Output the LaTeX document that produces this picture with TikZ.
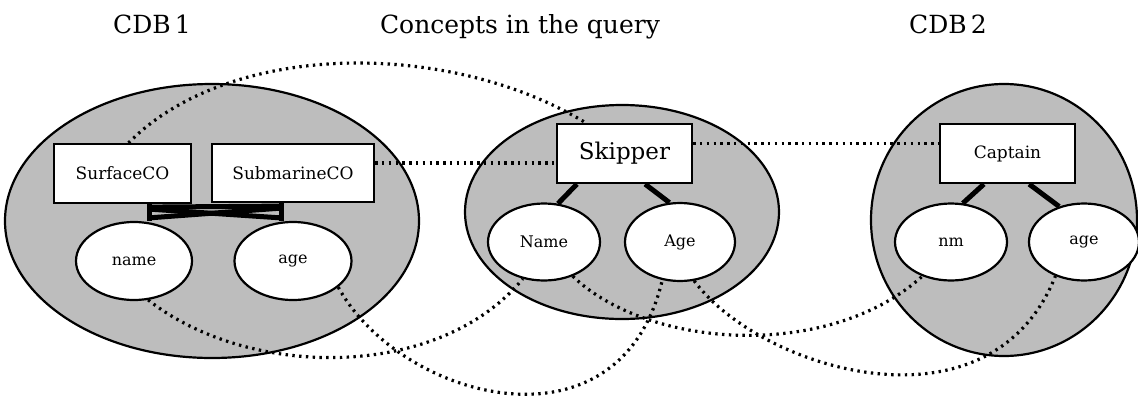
\documentclass[tikz,border=0pt]{standalone}
\usepackage{fontspec}
\setmainfont{DejaVu Serif}
\usetikzlibrary{shapes.geometric}
\tikzset{
	db/.style={draw,ellipse,line width=2.2pt,fill=black!26,inner sep=0pt},
	cls/.style={draw,rectangle,line width=2.2pt,fill=white,inner sep=0pt,minimum width=135pt,minimum height=59pt,font=\fontsize{17}{20}\selectfont},
	attr/.style={draw,ellipse,line width=2.2pt,fill=white,inner sep=0pt,minimum width=112pt,minimum height=77pt,font=\fontsize{16}{19}\selectfont},
	head/.style={anchor=base,font=\fontsize{25}{30}\selectfont},
	bond/.style={line width=5pt},
	link/.style={line width=3.2pt,dash pattern=on 2.4pt off 4.4pt}
}
\begin{document}
\begin{tikzpicture}[x=1pt,y=-1pt]
		\useasboundingbox(0,0)rectangle(1138,399);
		\node[head](t1)at(152,33){CDB\,1};
		\node[head](t2)at(520,33){Concepts in the query};
		\node[head](t3)at(948,33){CDB\,2};
		\node[db,minimum width=414pt,minimum height=274pt](db1)at(212,221){};
		\node[db,minimum width=314pt,minimum height=214pt](qry)at(622,212){};
		\node[db,minimum width=266pt,minimum height=272pt](db2)at(1004,220){};
		\node[cls,minimum width=137pt](sfc)at(122.5,173.5){SurfaceCO};
		\node[cls,minimum width=162pt,minimum height=58pt](sub)at(293,173){SubmarineCO};
		\node[cls,font=\fontsize{23}{27}\selectfont](skp)at(624.5,153.5){Skipper};
		\node[cls](cap)at(1007.5,153.5){Captain};
		\node[attr,minimum width=116pt,minimum height=78pt](nm1)at(134,261){name};
		\node[attr,minimum width=117pt,minimum height=78pt](ag1)at(293,261){age};
		\node[attr](nm2)at(544,242){Name};
		\node[attr,minimum width=110pt,minimum height=78pt](ag2)at(680,242){Age};
		\node[attr](nm3)at(951,242){nm};
		\node[attr,minimum width=110pt](ag3)at(1084,242){age};
		\coordinate(lb)at(149,0);
		\coordinate(rb)at(281,0);
		\draw[bond](lb |- sfc.south)--(lb |- nm1.north);
		\draw[bond](rb |- sub.south)--(rb |- ag1.north);
		\draw[bond]([yshift=-3pt]lb |- sfc.south)--([yshift=-3pt]rb |- sub.south);
		\draw[bond]([yshift=-5pt]lb |- sfc.south)--([yshift=3pt]rb |- ag1.north);
		\draw[bond]([yshift=-5pt]rb |- sub.south)--([yshift=3pt]lb |- nm1.north);
		\draw[bond]([xshift=21pt]skp.south west)--(nm2.70);
		\draw[bond]([xshift=-48pt]skp.south east)--(ag2.105);
		\draw[bond]([xshift=45pt]cap.south west)--(nm3.73);
		\draw[bond]([xshift=-47pt]cap.south east)--(ag3.125);
		\draw[link]([xshift=6pt]sfc.north)..controls(230,40)and(450,40)..([xshift=30pt]skp.north west);
		\draw[link]([yshift=10pt]sub.east)--([yshift=10pt]sub.east -| skp.west);
		\draw[link]([yshift=10pt]skp.east)--([yshift=10pt]cap.west);
		\draw[link](nm1.290)..controls(250,380)and(440,380)..(nm2.240);
		\draw[link](ag1.330)..controls(400,400)and(620,460)..(ag2.245);
		\draw[link](nm2.310)..controls(650,350)and(830,360)..(nm3.230);
		\draw[link](ag2.290)..controls(760,370)and(990,440)..(ag3.230);
	\end{tikzpicture}
\end{document}
